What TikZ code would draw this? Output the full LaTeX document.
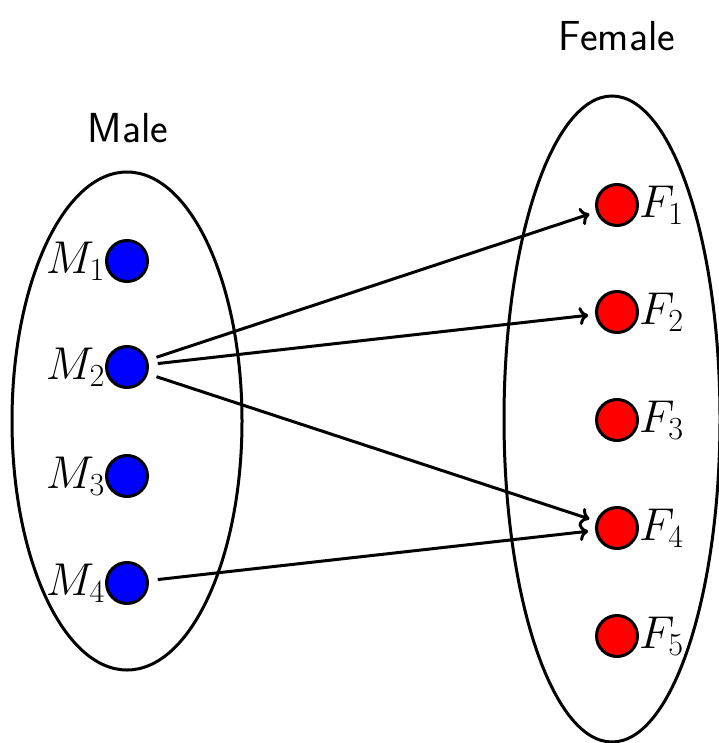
\RequirePackage{fix-cm}
\documentclass[tikz,border=0pt]{standalone}
\usetikzlibrary{arrows.meta}
\begin{document}
\begin{tikzpicture}[x=1pt,y=-1pt,
  bigtext/.style={font=\fontsize{46}{52}\selectfont},
  dotm/.style={circle,draw=black,fill=blue,line width=3pt,minimum size=41pt,inner sep=0pt,
     label={[bigtext,inner sep=0pt,label distance=0pt]left:#1}},
  dotf/.style={circle,draw=black,fill=red,line width=3pt,minimum size=41pt,inner sep=0pt,
     label={[bigtext,inner sep=0pt,label distance=0pt]right:#1}},
  setline/.style={draw=black,line width=3pt},
  conn/.style={draw=black,line width=3pt,-{To[length=9pt,width=18pt]},shorten <=9pt,shorten >=7pt}]
\useasboundingbox (0,0) rectangle (718,743);
\draw[setline] (127,421) ellipse [x radius=115, y radius=249];
\draw[setline] (612,419) ellipse [x radius=108, y radius=323];
\node[font=\fontsize{42}{48}\selectfont\sffamily] (male) at (128,128) {Male};
\node[font=\fontsize{42}{48}\selectfont\sffamily] (female) at (617,36) {Female};
\node[dotm=$M_1$] (M1) at (127,261) {};
\node[dotm=$M_2$] (M2) at (127,367) {};
\node[dotm=$M_3$] (M3) at (127,476) {};
\node[dotm=$M_4$] (M4) at (127,583) {};
\node[dotf=$F_1$] (F1) at (617,205) {};
\node[dotf=$F_2$] (F2) at (617,312) {};
\node[dotf=$F_3$] (F3) at (617,420) {};
\node[dotf=$F_4$] (F4) at (617,528) {};
\node[dotf=$F_5$] (F5) at (617,636) {};
\draw[conn] (M2) -- (F1);
\draw[conn] (M2) -- (F2);
\draw[conn] (M2) -- (F4);
\draw[conn] (M4) -- (F4);
\end{tikzpicture}
\end{document}
